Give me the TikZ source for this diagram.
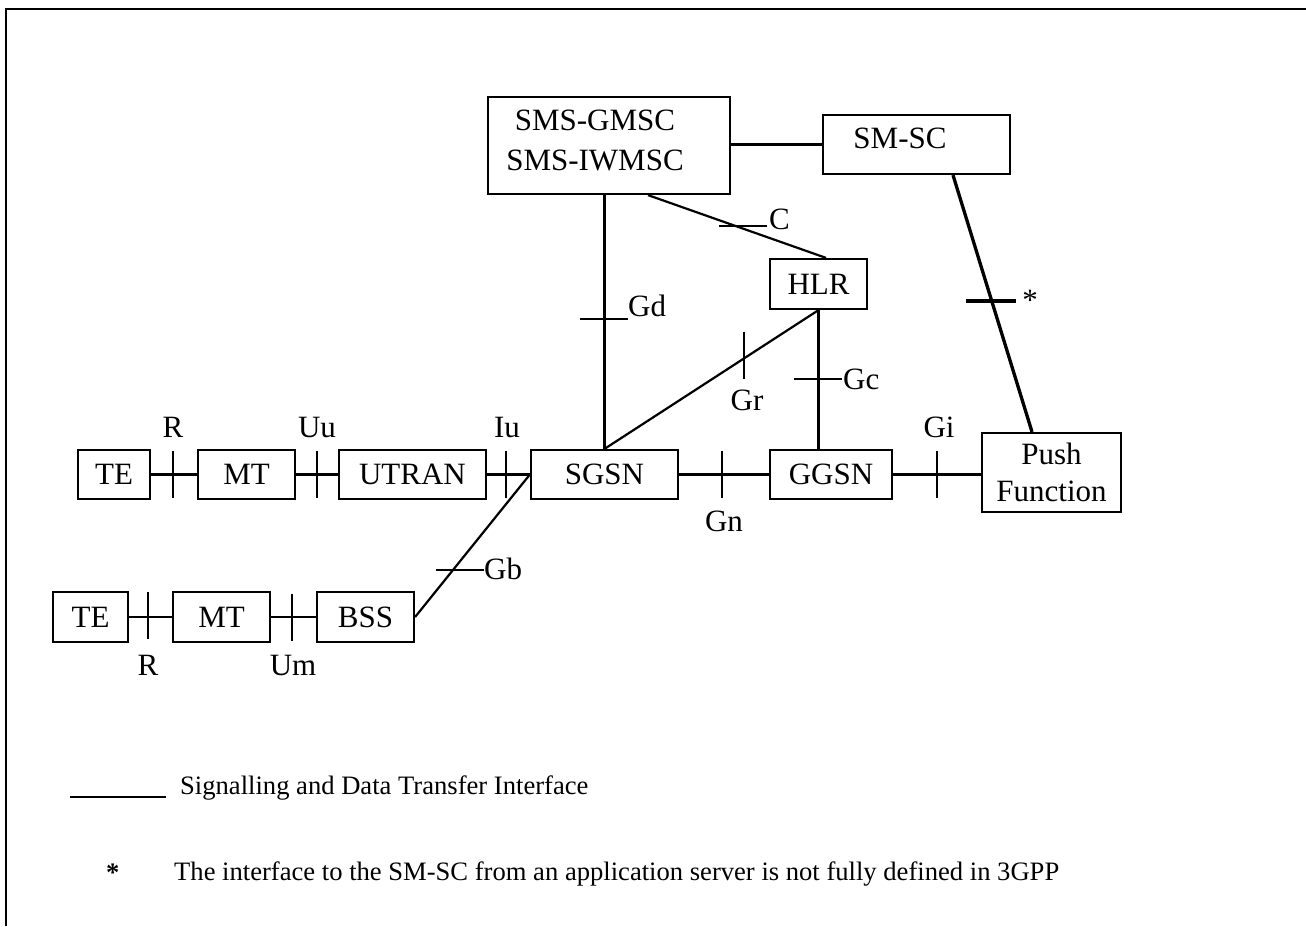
\documentclass[tikz,border=0pt]{standalone}
\usepackage{fontspec}
\setmainfont{Liberation Serif}
\begin{document}
\begin{tikzpicture}[x=1pt,y=-1pt,
  box/.style={draw, line width=2.2pt, inner sep=0pt, font=\fontsize{31}{37}\selectfont, align=center},
  lbl/.style={font=\fontsize{31}{37}\selectfont, inner sep=0pt, anchor=base},
  lblw/.style={font=\fontsize{31}{37}\selectfont, inner sep=0pt, anchor=base west},
  conn/.style={line width=2.2pt},
  tick/.style={line width=2.2pt},
  legtext/.style={font=\fontsize{26.6}{30}\selectfont, inner sep=0pt, anchor=base west}]
\useasboundingbox (0,0) rectangle (1306,926);
% frame
\draw[line width=2.5pt] (6,926) -- (6,9) -- (1306,9);

% boxes
\node[box, minimum width=72, minimum height=49] (te1) at (114,474.5) {TE};
\node[box, minimum width=97, minimum height=49] (mt1) at (246.5,474.5) {MT};
\node[box, minimum width=147, minimum height=49] (utran) at (412.5,474.5) {UTRAN};
\node[box, minimum width=147, minimum height=49] (sgsn) at (604.5,474.5) {SGSN};
\node[box, minimum width=122, minimum height=49] (ggsn) at (831,474.5) {GGSN};
\node[box, minimum width=139, minimum height=79] (push) at (1051.5,472.5) {Push\\Function};
\node[box, minimum width=97, minimum height=50] (hlr) at (818.5,284) {HLR};
\node[box, minimum width=242, minimum height=97] (sms) at (609,145.5) {};
\node[lbl] (smst1) at (595,130) {SMS-GMSC};
\node[lbl] (smst2) at (595,170) {SMS-IWMSC};
\node[box, minimum width=187, minimum height=59] (smsc) at (916.5,144.5) {};
\node[lbl] (smsct) at (900,148) {SM-SC};
\node[box, minimum width=75, minimum height=50] (te2) at (90.5,617) {TE};
\node[box, minimum width=97, minimum height=50] (mt2) at (221.5,617) {MT};
\node[box, minimum width=97, minimum height=50] (bss) at (365.5,617) {BSS};

% connectors
\draw[conn] (te1) -- (mt1);
\draw[conn] (mt1) -- (utran);
\draw[conn] (utran) -- (sgsn);
\draw[conn] (sgsn) -- (ggsn);
\draw[conn] (ggsn.east) -- (ggsn.east -| push.west);
\draw[conn] (te2) -- (mt2);
\draw[conn] (mt2) -- (bss);
\draw[conn] (bss.east) -- (sgsn.west);
\draw[conn] (smsc.west -| sms.east) -- (smsc.west);
\draw[conn] ([xshift=39pt]sms.south) -- ([xshift=7.5pt]hlr.north);
\draw[conn] (sgsn.north |- sms.south) -- (sgsn.north);
\draw[conn] (hlr.south) -- (sgsn.north);
\draw[conn] (hlr.south) -- (hlr.south |- ggsn.north);
\draw[line width=3.3pt] ([xshift=36.5pt]smsc.south) -- ([xshift=-19.5pt]push.north);

% ticks
\coordinate (tR1) at (173,474.5);
\coordinate (tUu) at (317,474.5);
\coordinate (tIu) at (506,474.5);
\coordinate (tGn) at (722,474.5);
\coordinate (tGi) at (937,474.5);
\coordinate (tR2) at (148,615.5);
\coordinate (tUm) at (292,617);
\coordinate (tGr) at (744,355);
\coordinate (tGd) at (603.5,319);
\coordinate (tC) at (742.5,226);
\coordinate (tGc) at (818,379);
\coordinate (tGb) at (460,570);
\coordinate (tSt) at (991,301);
\foreach \t in {tR1,tUu,tIu,tGn,tGi,tR2,tUm,tGr}
  \draw[tick] (\t) +(0,-23.5) -- +(0,23.5);
\foreach \t in {tGd,tC,tGc,tGb}
  \draw[tick] (\t) +(-24,0) -- +(24,0);
\draw[line width=3.6pt] (tSt) +(-25,0) -- +(25,0);

% labels
\node[lbl] (lR1) at (173,437) {R};
\node[lbl] (lUu) at (317,437) {Uu};
\node[lbl] (lIu) at (507,437) {Iu};
\node[lbl] (lGi) at (939,437) {Gi};
\node[lbl] (lR2) at (148,675) {R};
\node[lbl] (lUm) at (293,675) {Um};
\node[lbl] (lGn) at (724,531) {Gn};
\node[lbl] (lGr) at (747,410) {Gr};
\node[lblw] (lGd) at (628,316) {Gd};
\node[lblw] (lC) at (769,229) {C};
\node[lblw] (lGc) at (843,389) {Gc};
\node[lblw] (lGb) at (484,579) {Gb};
\node[lbl] (lSt) at (1030,310) {*};

% legend
\coordinate (legA) at (70,797);
\coordinate (legB) at (166,797);
\draw[line width=2.2pt] (legA) -- (legB);
\node[legtext] (leg1) at (180,794) {Signalling and Data Transfer Interface};
\node[legtext, font=\fontsize{26.6}{30}\selectfont\bfseries] (legst) at (106,881) {*};
\node[legtext] (leg2) at (174,880) {The interface to the SM-SC from an application server is not fully defined in 3GPP};
\end{tikzpicture}
\end{document}
